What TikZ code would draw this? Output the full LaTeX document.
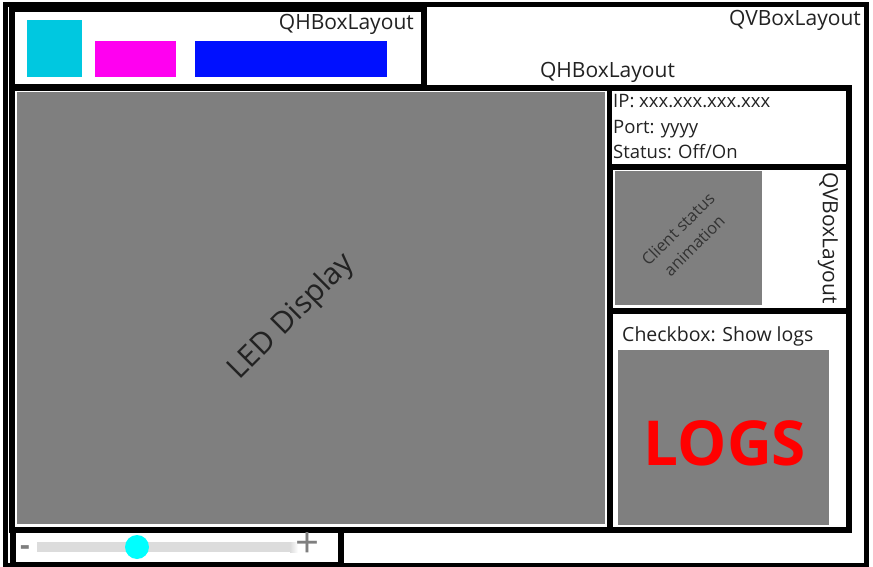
\documentclass[tikz,border=0pt]{standalone}
\usepackage{fontspec}
\setmainfont{Open Sans}
\usepackage{tikz}
\usetikzlibrary{positioning}
\definecolor{qtCyan}{HTML}{00C8E0}
\definecolor{qtMagenta}{HTML}{FF00F0}
\definecolor{qtBlue}{HTML}{0010FF}
\definecolor{qtGray}{HTML}{7F7F7F}
\definecolor{qtTrack}{HTML}{DCDCDC}
\definecolor{qtKnob}{HTML}{00FFFF}
\definecolor{qtText}{HTML}{222222}

\begin{document}
\begin{tikzpicture}[x=1pt, y=-1pt,
  frame/.style={draw=black, line width=#1, fill=white, inner sep=0pt, outer sep=0pt, anchor=north west},
  panel/.style={fill=qtGray, inner sep=0pt, outer sep=0pt, anchor=north west},
  swatch/.style={fill=#1, inner sep=0pt, outer sep=0pt, anchor=north west},
  layoutname/.style={text=qtText, inner sep=0pt, font={\fontsize{21pt}{25pt}\selectfont}},
  infotext/.style={text=qtText, inner sep=0pt, anchor=base west, font={\fontsize{18.5pt}{22pt}\selectfont}}
]
  \useasboundingbox (0,0) rectangle (873,567);

  % outer QVBoxLayout
  \node[frame=5pt, minimum width=860.5pt, minimum height=560pt] (vbox) at (5.5,5) {};
  \node[layoutname, anchor=base east] (vboxname) at (861,26) {QVBoxLayout};

  % top QHBoxLayout with the three colour blocks
  \node[frame=5.5pt, minimum width=412pt, minimum height=77pt] (tophbox) at (12,9.5) {};
  \node[layoutname, anchor=base east] (tophboxname) at (414,30) {QHBoxLayout};
  \node[swatch=qtCyan, minimum width=55pt, minimum height=57pt] (cyanbox) at (27,20) {};
  \node[swatch=qtMagenta, minimum width=81pt, minimum height=36pt] (magentabox) at (95,41) {};
  \node[swatch=qtBlue, minimum width=192pt, minimum height=36pt] (bluebox) at (195,41) {};

  % middle QHBoxLayout
  \node[layoutname, anchor=base] (midhboxname) at (607.5,78) {QHBoxLayout};
  \node[frame=6pt, minimum width=836.5pt, minimum height=441.5pt] (midhbox) at (12,88) {};
  \node[panel, minimum width=588pt, minimum height=432pt] (led) at (17,92) {};
  \node[text=qtText, rotate=45, font={\fontsize{30pt}{36pt}\selectfont}] (ledname) at (292,317) {LED Display};

  % right column
  \node[frame=5.5pt, minimum width=239pt, minimum height=79pt] (info) at (609.5,88) {};
  \node[infotext] (ip) at (613,108) {IP: xxx.xxx.xxx.xxx};
  \node[infotext] (port) at (613,134) {Port: yyyy};
  \node[infotext] (status) at (613,159) {Status: Off/On};

  \node[frame=6pt, minimum width=239pt, minimum height=144pt] (anim) at (609.5,167) {};
  \node[panel, minimum width=147pt, minimum height=134pt] (animpanel) at (615,171) {};
  \node[text=black!80, rotate=45, align=center, inner sep=0pt, font={\fontsize{16.5pt}{23pt}\selectfont}] (animname) at (686,237) {Client status\\animation};
  \node[layoutname, rotate=-90] (animvbox) at (828,238) {QVBoxLayout};

  \node[frame=6pt, minimum width=239pt, minimum height=218.5pt] (logbox) at (609.5,311) {};
  \node[text=qtText, inner sep=0pt, anchor=base west, font={\fontsize{19.5pt}{23pt}\selectfont}] (checkbox) at (622,341) {Checkbox: Show logs};
  \node[panel, minimum width=211pt, minimum height=175pt] (logs) at (618,350) {};
  \node[text=red, inner sep=0pt, font={\fontsize{62pt}{70pt}\selectfont\bfseries}] (logsname) at (725,443.5) {LOGS};

  % slider
  \node[frame=6pt, minimum width=328.5pt, minimum height=34.5pt] (slider) at (12.5,530) {};
  \fill[qtTrack] (37,542) rectangle (290,552);
  \shade[left color=qtTrack, right color=white] (290,542) rectangle (298,552);
  \fill[qtKnob] (137,547) circle (12);
  \node[text=qtGray, inner sep=0pt, font={\fontsize{30pt}{34pt}\selectfont\bfseries}] (minus) at (25,551) {-};
  \node[text=qtGray, inner sep=0pt, font={\fontsize{42pt}{46pt}\selectfont}] (plus) at (308,545) {+};
\end{tikzpicture}
\end{document}
